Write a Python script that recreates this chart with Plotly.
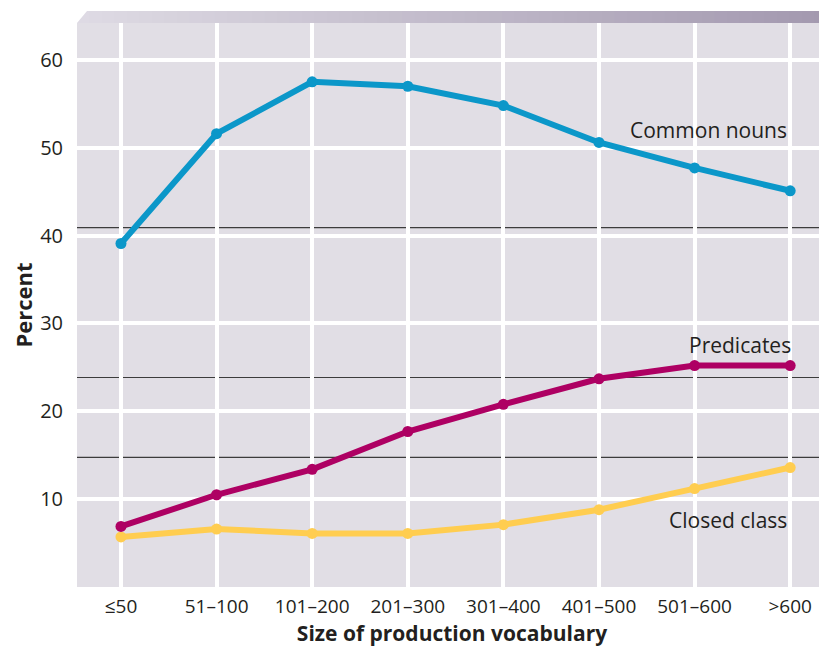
import plotly.graph_objects as go

categories = ["≤50", "51–100", "101–200", "201–300", "301–400", "401–500", "501–600", ">600"]
common_nouns = [39.1, 51.6, 57.5, 57.0, 54.8, 50.6, 47.7, 45.1]
predicates = [6.9, 10.5, 13.4, 17.7, 20.8, 23.7, 25.2, 25.2]
closed_class = [5.7, 6.6, 6.1, 6.1, 7.1, 8.8, 11.2, 13.6]
reference_levels = [40.9, 23.85, 14.75]
y_ticks = [10, 20, 30, 40, 50, 60]

BLUE = "#0b97c9"
MAGENTA = "#ae0063"
YELLOW = "#ffcd50"
FONT = "Open Sans"

# page body has an 8px margin; compensate
OFF = 8
x = list(range(len(categories)))
fig = go.Figure()

for vals, col in [(closed_class, YELLOW), (predicates, MAGENTA), (common_nouns, BLUE)]:
    fig.add_trace(go.Scatter(
        x=x, y=vals, mode="lines+markers",
        line=dict(color=col, width=6),
        marker=dict(color=col, size=11),
        showlegend=False, cliponaxis=False,
    ))

shapes = []
for lv in reference_levels:
    shapes.append(dict(type="line", xref="paper", x0=0, x1=1, yref="y", y0=lv, y1=lv,
                       line=dict(color="#3c3c3c", width=1.2), layer="between"))

plot_h = 564
plot_w = 750
y_top_frac = 1 + 12 / plot_h
n = 60
c0 = (222, 219, 228)
c1 = (163, 152, 175)
for i in range(n):
    t0 = i / n
    t1 = (i + 1) / n
    tc = (i + 0.5) / n
    col = "rgb(%d,%d,%d)" % tuple(round(a + (b - a) * tc) for a, b in zip(c0, c1))
    if i == 0:
        px1 = t1 + 0.001
        path = "M %f,%f L %f,%f L %f,%f L %f,%f Z" % (0, 1, 10 / plot_w, y_top_frac, px1, y_top_frac, px1, 1)
        shapes.append(dict(type="path", xref="paper", yref="paper", path=path,
                           fillcolor=col, line=dict(width=0), layer="above"))
    else:
        shapes.append(dict(type="rect", xref="paper", yref="paper", x0=t0, x1=t1 + 0.001,
                           y0=1, y1=y_top_frac, fillcolor=col, line=dict(width=0), layer="above"))

ann_font = dict(family=FONT, size=21, color="#231f20")
annotations = [
    dict(x=6.15, y=52.0, text="Common nouns", showarrow=False, xref="x", yref="y", font=ann_font),
    dict(x=6.48, y=27.6, text="Predicates", showarrow=False, xref="x", yref="y", font=ann_font),
    dict(x=6.35, y=7.6, text="Closed class", showarrow=False, xref="x", yref="y", font=ann_font),
]

fig.update_layout(
    width=827 - OFF, height=648 - OFF,
    margin=dict(l=77 - OFF, r=0, t=23 - OFF, b=61),
    paper_bgcolor="white",
    plot_bgcolor="#e1dee5",
    font=dict(family=FONT, size=19, color="#231f20"),
    shapes=shapes,
    annotations=annotations,
    xaxis=dict(
        range=[-0.46, 7.385], tickmode="array", tickvals=x, ticktext=categories,
        showgrid=True, gridcolor="white", gridwidth=3.5, zeroline=False,
        showline=False, ticks="outside", ticklen=2, tickcolor="rgba(0,0,0,0)",
        tickfont=dict(size=19),
        title=dict(text="<b>Size of production vocabulary</b>", font=dict(size=21), standoff=7),
    ),
    yaxis=dict(
        range=[0, 64.2], tickmode="array", tickvals=y_ticks,
        showgrid=True, gridcolor="white", gridwidth=3.5, zeroline=False,
        showline=False, ticks="outside", ticklen=9, tickcolor="rgba(0,0,0,0)",
        tickfont=dict(size=20),
        title=dict(text="<b>Percent</b>", font=dict(size=22), standoff=8),
    ),
)

fig.write_html("out.html")
